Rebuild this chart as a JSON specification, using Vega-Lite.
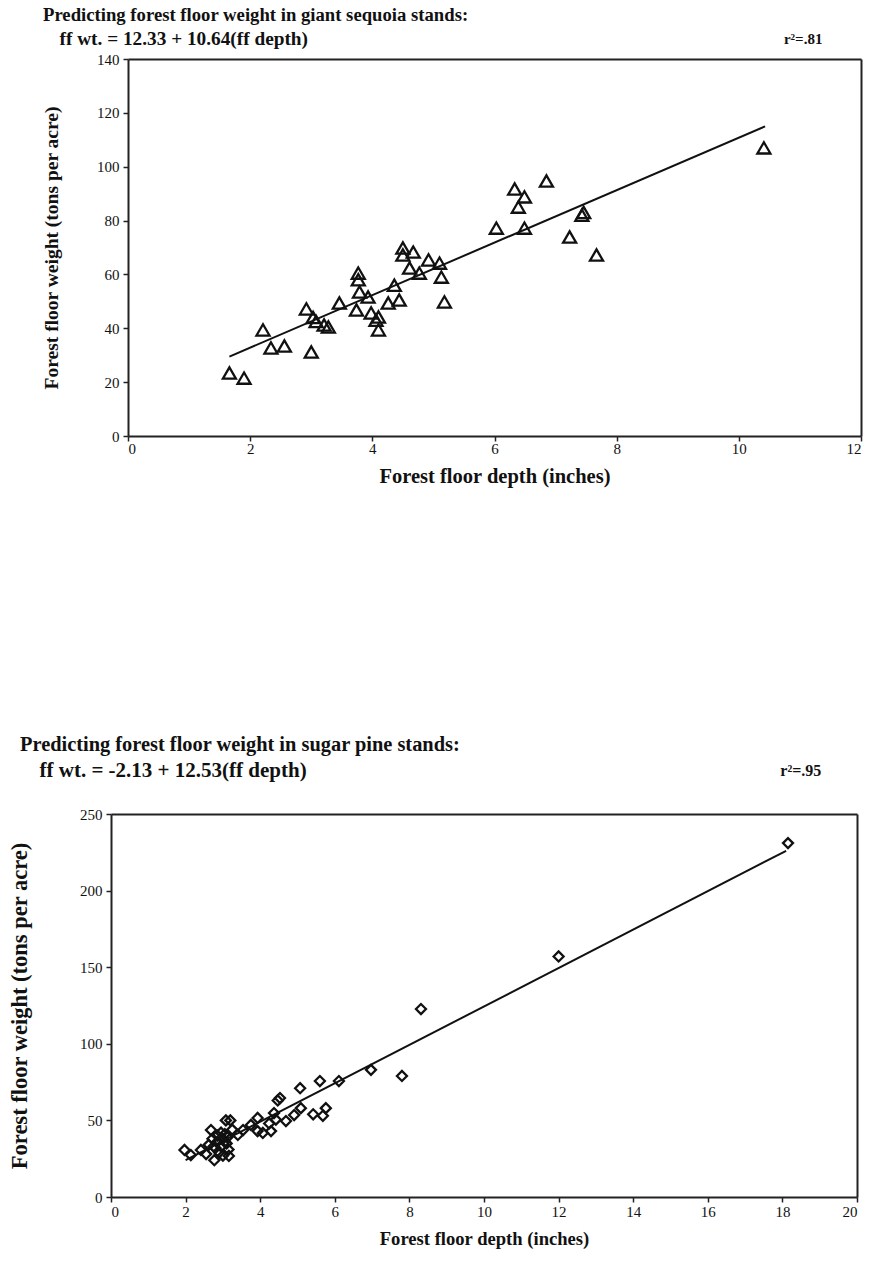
{
  "$schema": "https://vega.github.io/schema/vega-lite/v6.json",
  "padding": {"left": 7, "top": 6, "right": 2, "bottom": 2},
  "background": "white",
  "spacing": 247,
  "config": {
    "view": {"stroke": null},
    "axis": {
      "grid": false,
      "labelFont": "Liberation Serif",
      "labelFontSize": 15,
      "labelColor": "#111",
      "titleFont": "Liberation Serif",
      "titleFontWeight": "bold",
      "titleColor": "#111",
      "domainColor": "#222",
      "domainWidth": 2,
      "tickColor": "#222",
      "tickWidth": 1.5
    }
  },
  "datasets": {
    "sequoia": [
      {"depth": 1.66, "weight": 23.4}, {"depth": 1.9, "weight": 21.5}, {"depth": 2.21, "weight": 39.4},
      {"depth": 2.34, "weight": 32.7}, {"depth": 2.56, "weight": 33.4}, {"depth": 2.92, "weight": 47.2},
      {"depth": 3.0, "weight": 31.2}, {"depth": 3.03, "weight": 44.0}, {"depth": 3.08, "weight": 42.5},
      {"depth": 3.21, "weight": 41.2}, {"depth": 3.28, "weight": 40.5}, {"depth": 3.46, "weight": 49.4},
      {"depth": 3.74, "weight": 46.8}, {"depth": 3.77, "weight": 60.5}, {"depth": 3.77, "weight": 58.0},
      {"depth": 3.79, "weight": 53.5}, {"depth": 3.93, "weight": 51.6}, {"depth": 3.98, "weight": 45.7},
      {"depth": 4.1, "weight": 44.2}, {"depth": 4.1, "weight": 39.4}, {"depth": 4.06, "weight": 43.0},
      {"depth": 4.26, "weight": 49.4}, {"depth": 4.36, "weight": 56.0}, {"depth": 4.44, "weight": 50.5},
      {"depth": 4.5, "weight": 69.8}, {"depth": 4.5, "weight": 67.2}, {"depth": 4.67, "weight": 68.3},
      {"depth": 4.61, "weight": 62.4}, {"depth": 4.77, "weight": 60.5}, {"depth": 4.92, "weight": 65.4},
      {"depth": 5.1, "weight": 64.2}, {"depth": 5.13, "weight": 59.0}, {"depth": 5.18, "weight": 49.8},
      {"depth": 6.03, "weight": 77.2}, {"depth": 6.33, "weight": 91.7}, {"depth": 6.49, "weight": 88.8},
      {"depth": 6.39, "weight": 85.0}, {"depth": 6.85, "weight": 94.7}, {"depth": 6.49, "weight": 77.2},
      {"depth": 7.43, "weight": 82.0}, {"depth": 7.46, "weight": 83.0}, {"depth": 7.23, "weight": 73.9},
      {"depth": 7.67, "weight": 67.2}, {"depth": 10.41, "weight": 107.0}
    ],
    "sequoiaFit": [
      {"depth": 1.66, "weight": 29.5},
      {"depth": 10.43, "weight": 115.0}
    ],
    "pine": [
      {"depth": 1.97, "weight": 30.7}, {"depth": 2.14, "weight": 27.4}, {"depth": 2.41, "weight": 30.7},
      {"depth": 2.55, "weight": 28.0}, {"depth": 2.62, "weight": 34.0}, {"depth": 2.68, "weight": 43.7},
      {"depth": 2.72, "weight": 38.0}, {"depth": 2.77, "weight": 24.0}, {"depth": 2.8, "weight": 32.0},
      {"depth": 2.85, "weight": 36.0}, {"depth": 2.9, "weight": 29.0}, {"depth": 2.95, "weight": 33.0},
      {"depth": 3.0, "weight": 38.0}, {"depth": 3.05, "weight": 41.0}, {"depth": 3.08, "weight": 50.0},
      {"depth": 3.2, "weight": 50.0}, {"depth": 3.16, "weight": 26.8}, {"depth": 3.1, "weight": 35.0},
      {"depth": 3.25, "weight": 44.0}, {"depth": 3.15, "weight": 31.0}, {"depth": 3.4, "weight": 40.5},
      {"depth": 2.85, "weight": 40.0}, {"depth": 2.95, "weight": 42.0}, {"depth": 3.05, "weight": 36.0},
      {"depth": 3.12, "weight": 39.0}, {"depth": 2.75, "weight": 33.0}, {"depth": 3.0, "weight": 27.0},
      {"depth": 3.54, "weight": 43.7}, {"depth": 3.75, "weight": 47.0}, {"depth": 3.93, "weight": 51.6},
      {"depth": 3.93, "weight": 43.0}, {"depth": 4.07, "weight": 41.8}, {"depth": 4.24, "weight": 48.0},
      {"depth": 4.29, "weight": 43.0}, {"depth": 4.37, "weight": 54.8}, {"depth": 4.47, "weight": 63.0},
      {"depth": 4.53, "weight": 64.6}, {"depth": 4.42, "weight": 50.5}, {"depth": 4.69, "weight": 49.6},
      {"depth": 4.91, "weight": 53.5}, {"depth": 5.09, "weight": 58.0}, {"depth": 5.07, "weight": 71.0},
      {"depth": 5.42, "weight": 54.0}, {"depth": 5.68, "weight": 53.0}, {"depth": 5.76, "weight": 58.0},
      {"depth": 5.6, "weight": 75.7}, {"depth": 6.11, "weight": 75.7}, {"depth": 6.97, "weight": 83.0},
      {"depth": 7.8, "weight": 79.0}, {"depth": 8.31, "weight": 122.7}, {"depth": 12.0, "weight": 157.0},
      {"depth": 18.15, "weight": 231.0}
    ],
    "pineFit": [
      {"depth": 2.0, "weight": 24.0},
      {"depth": 18.1, "weight": 226.0}
    ]
  },
  "vconcat": [
    {
      "width": 750,
      "height": 377,
      "title": {
        "text": "Predicting forest floor weight in giant sequoia stands:",
        "anchor": "start", "frame": "group", "dx": -68, "offset": 4,
        "font": "Liberation Serif", "fontSize": 18.7, "fontWeight": "bold", "color": "#111"
      },
      "layer": [
        {
          "data": {"name": "sequoia"},
          "mark": {"type": "point", "shape": "triangle-up", "filled": false, "size": 170, "stroke": "#111", "strokeWidth": 2.3, "opacity": 1},
          "encoding": {
            "x": {
              "field": "depth", "type": "quantitative",
              "scale": {"domain": [0, 12], "range": [17, 750], "nice": false, "zero": false},
              "axis": {"orient": "bottom", "values": [0, 2, 4, 6, 8, 10, 12], "tickSize": 5, "labelPadding": 0,
                "title": "Forest floor depth (inches)", "titleFontSize": 20.5, "titlePadding": 10}
            },
            "y": {
              "field": "weight", "type": "quantitative",
              "scale": {"domain": [0, 140], "nice": false},
              "axis": {"orient": "left", "offset": -17, "values": [0, 20, 40, 60, 80, 100, 120, 140], "tickSize": 5, "labelPadding": 4,
                "title": "Forest floor weight (tons per acre)", "titleFontSize": 19.5, "titleX": -77, "titleBaseline": "middle"}
            }
          }
        },
        {
          "data": {"name": "sequoiaFit"},
          "mark": {"type": "line", "color": "#111", "strokeWidth": 2},
          "encoding": {
            "x": {
              "field": "depth", "type": "quantitative",
              "axis": {"orient": "top", "values": [11.36], "labelExpr": "'r²=.81'", "ticks": false, "tickSize": 0,
                "labelAlign": "right", "labelBaseline": "middle", "labelPadding": 21, "labelFlush": false, "labelOverlap": false,
                "labelFont": "Liberation Serif", "labelFontSize": 15, "labelFontWeight": "bold",
                "title": "ff wt. = 12.33 + 10.64(ff depth)", "titleFontSize": 19.3, "titleAnchor": "start", "titleAlign": "left",
                "titleBaseline": "middle", "titleX": -52, "titleY": -21}
            },
            "y": {
              "field": "weight", "type": "quantitative",
              "axis": {"orient": "right", "ticks": false, "labels": false, "title": null}
            }
          }
        }
      ],
      "resolve": {"axis": {"x": "independent", "y": "independent"}}
    },
    {
      "width": 746,
      "height": 383,
      "title": {
        "text": "Predicting forest floor weight in sugar pine stands:",
        "anchor": "start", "frame": "group", "dx": -91, "offset": 4,
        "font": "Liberation Serif", "fontSize": 20.4, "fontWeight": "bold", "color": "#111"
      },
      "layer": [
        {
          "data": {"name": "pine"},
          "mark": {"type": "point", "shape": "diamond", "filled": false, "size": 100, "stroke": "#111", "strokeWidth": 2.3, "opacity": 1},
          "encoding": {
            "x": {
              "field": "depth", "type": "quantitative",
              "scale": {"domain": [0, 20], "nice": false, "zero": false},
              "axis": {"orient": "bottom", "values": [0, 2, 4, 6, 8, 10, 12, 14, 16, 18, 20], "tickSize": 5, "labelPadding": 2,
                "title": "Forest floor depth (inches)", "titleFontSize": 18.6, "titlePadding": 10}
            },
            "y": {
              "field": "weight", "type": "quantitative",
              "scale": {"domain": [0, 250], "nice": false},
              "axis": {"orient": "left", "values": [0, 50, 100, 150, 200, 250], "tickSize": 5, "labelPadding": 4,
                "title": "Forest floor weight (tons per acre)", "titleFontSize": 22.5, "titleX": -92, "titleBaseline": "middle"}
            }
          }
        },
        {
          "data": {"name": "pineFit"},
          "mark": {"type": "line", "color": "#111", "strokeWidth": 2},
          "encoding": {
            "x": {
              "field": "depth", "type": "quantitative",
              "axis": {"orient": "top", "values": [19.03], "labelExpr": "'r²=.95'", "ticks": false, "tickSize": 0,
                "labelAlign": "right", "labelBaseline": "middle", "labelPadding": 44, "labelFlush": false, "labelOverlap": false,
                "labelFont": "Liberation Serif", "labelFontSize": 16, "labelFontWeight": "bold",
                "title": "ff wt. = -2.13 + 12.53(ff depth)", "titleFontSize": 21, "titleAnchor": "start", "titleAlign": "left",
                "titleBaseline": "middle", "titleX": -72, "titleY": -44}
            },
            "y": {
              "field": "weight", "type": "quantitative",
              "axis": {"orient": "right", "ticks": false, "labels": false, "title": null}
            }
          }
        }
      ],
      "resolve": {"axis": {"x": "independent", "y": "independent"}}
    }
  ]
}
